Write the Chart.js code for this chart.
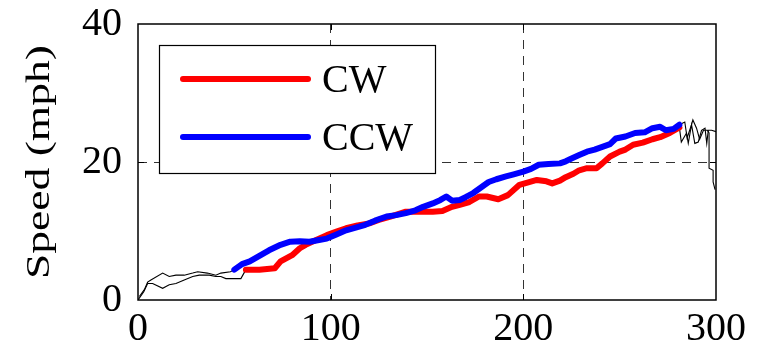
<!DOCTYPE html>
<html>
<head>
<meta charset="utf-8">
<script src="https://cdn.jsdelivr.net/npm/chart.js@4.4.1/dist/chart.umd.min.js"></script>
<style>
  body { margin: 0; background: #fff; }
  #wrap { width: 758px; height: 353px; }
</style>
</head>
<body>
<div id="wrap"><canvas id="speedChart" width="758" height="353"></canvas></div>
<script>
// Data
const cwX = [56, 63, 71, 74, 80, 84, 87, 91, 98, 103, 108, 114, 120, 125, 131, 139, 146, 153, 158, 163, 167, 172, 177, 181, 187, 192, 198, 203, 207, 212, 215, 219, 222, 226, 229, 233, 238, 241, 245, 250, 253, 257, 262, 267, 271, 276, 281];
const cwY = [4.4, 4.4, 4.6, 5.6, 6.5, 7.5, 8.0, 8.5, 9.4, 9.9, 10.4, 10.8, 11.1, 11.6, 12.1, 12.8, 12.8, 12.8, 12.9, 13.5, 13.8, 14.2, 15.0, 15.0, 14.6, 15.2, 16.7, 17.1, 17.4, 17.2, 16.9, 17.3, 17.8, 18.3, 18.8, 19.1, 19.1, 19.8, 20.8, 21.5, 21.8, 22.5, 22.8, 23.3, 23.6, 24.2, 25.0];

const ccwX = [50, 54, 58, 63, 68, 74, 79, 84, 89, 94, 98, 103, 108, 113, 118, 123, 129, 134, 139, 144, 148, 153, 157, 160, 163, 167, 170, 174, 178, 182, 186, 191, 195, 200, 204, 208, 213, 219, 222, 225, 229, 233, 237, 241, 245, 248, 253, 258, 263, 267, 271, 274, 278, 281];
const ccwY = [4.4, 5.2, 5.6, 6.4, 7.2, 8.0, 8.45, 8.5, 8.45, 8.7, 8.9, 9.5, 10.1, 10.5, 10.9, 11.5, 12.1, 12.3, 12.6, 13.0, 13.5, 14.0, 14.5, 15.0, 14.4, 14.5, 14.9, 15.5, 16.3, 17.1, 17.5, 17.9, 18.2, 18.6, 19.0, 19.6, 19.7, 19.8, 20.1, 20.5, 21.0, 21.5, 21.8, 22.2, 22.6, 23.4, 23.7, 24.2, 24.3, 24.9, 25.1, 24.6, 24.8, 25.4];

// thin black traces outside the coloured parts
const cwHeadX = [0, 3, 5, 7.6, 12.8, 16.2, 19.7, 24, 28.4, 31.8, 37, 40.4, 43, 45.6, 50.8, 53.4, 56];
const cwHeadY = [0, 1.2, 2.4, 2.4, 1.7, 2.2, 2.4, 2.9, 3.4, 3.6, 3.6, 3.4, 3.4, 3.1, 3.1, 3.1, 4.4];
const ccwHeadX = [0.7, 3.3, 5, 6.7, 12.8, 16.2, 19.7, 24, 28.4, 31, 36, 40.4, 43, 48, 50];
const ccwHeadY = [0.5, 1.5, 2.6, 2.9, 3.9, 3.4, 3.6, 3.6, 3.9, 4.1, 3.9, 3.6, 3.9, 4.1, 4.4];

const cwTailX = [281, 282, 284.7, 285.6, 287.3, 289, 290.8, 292.5, 294.3, 295.2, 296, 297.7, 300];
const cwTailY = [25.0, 22.9, 24.2, 22.7, 25.4, 22.7, 22.9, 24.6, 24.9, 22.7, 24.6, 24.6, 24.4];
const ccwTailX = [281, 283.8, 285, 287.3, 288, 289.9, 291.5, 293.5, 295.5, 296.4, 296.4, 298.5, 298.5, 299.5];
const ccwTailY = [25.4, 25.8, 23.5, 25.4, 26.1, 24.9, 23.3, 24.6, 24.6, 24.2, 19.1, 18.8, 17.1, 16.0];

const xTicks = [0, 100, 200, 300];
const yTicks = [0, 20, 40];

function toPoints(xs, ys) {
  return xs.map((x, i) => ({ x, y: ys[i] }));
}

const FONT = "'Liberation Serif', 'Times New Roman', serif";

// Frame, inward tick marks, y title and legend box
const decorations = {
  id: 'decorations',
  afterDraw(chart) {
    const { ctx, chartArea: a, scales } = chart;
    ctx.save();
    ctx.strokeStyle = '#000';
    ctx.lineWidth = 1.5;
    ctx.strokeRect(a.left, a.top, a.right - a.left, a.bottom - a.top);

    ctx.lineWidth = 1;
    [100, 200].forEach(v => {
      const px = Math.round(scales.x.getPixelForValue(v)) + 0.5;
      ctx.beginPath();
      ctx.moveTo(px, a.bottom); ctx.lineTo(px, a.bottom - 6);
      ctx.moveTo(px, a.top); ctx.lineTo(px, a.top + 6);
      ctx.stroke();
    });
    const py = Math.round(scales.y.getPixelForValue(20)) + 0.5;
    ctx.beginPath();
    ctx.moveTo(a.left, py); ctx.lineTo(a.left + 6, py);
    ctx.moveTo(a.right, py); ctx.lineTo(a.right - 6, py);
    ctx.stroke();

    // y axis title (stretched along its length like the original)
    ctx.save();
    ctx.translate(40, (a.top + a.bottom) / 2);
    ctx.rotate(-Math.PI / 2);
    ctx.scale(1.38, 1);
    ctx.font = '33px ' + FONT;
    ctx.fillStyle = '#000';
    ctx.textAlign = 'center';
    ctx.textBaseline = 'middle';
    ctx.fillText('Speed (mph)', 0, 0);
    ctx.restore();

    // legend
    const items = chart.data.datasets.filter(d => d.inLegend).sort((p, q) => p.legendRank - q.legendRank);
    ctx.fillStyle = '#fff';
    ctx.fillRect(159, 45, 276, 128);
    ctx.strokeStyle = '#000';
    ctx.lineWidth = 1.2;
    ctx.strokeRect(159.5, 45.5, 276, 128);
    items.forEach((d, i) => {
      const y = 79 + i * 58;
      ctx.strokeStyle = d.borderColor;
      ctx.lineWidth = 6;
      ctx.lineCap = 'round';
      ctx.beginPath();
      ctx.moveTo(183, y); ctx.lineTo(308, y);
      ctx.stroke();
      ctx.fillStyle = '#000';
      ctx.font = '40px ' + FONT;
      ctx.textAlign = 'left';
      ctx.textBaseline = 'middle';
      ctx.fillText(d.label, 322, y + 2);
    });
    ctx.restore();
  }
};

function thin(label, xs, ys) {
  return {
    label,
    data: toPoints(xs, ys),
    borderColor: '#000',
    borderWidth: 1.1,
    pointRadius: 0,
    tension: 0
  };
}

new Chart(document.getElementById('speedChart'), {
  type: 'line',
  data: {
    datasets: [
      { label: 'CCW', data: toPoints(ccwX, ccwY), borderColor: '#0000ff', borderWidth: 6,
        pointRadius: 0, tension: 0, borderJoinStyle: 'round', borderCapStyle: 'round', inLegend: true, legendRank: 2 },
      { label: 'CW', data: toPoints(cwX, cwY), borderColor: '#ff0000', borderWidth: 6,
        pointRadius: 0, tension: 0, borderJoinStyle: 'round', borderCapStyle: 'round', inLegend: true, legendRank: 1 },
      thin('cw head', cwHeadX, cwHeadY),
      thin('ccw head', ccwHeadX, ccwHeadY),
      thin('cw tail', cwTailX, cwTailY),
      thin('ccw tail', ccwTailX, ccwTailY)
    ]
  },
  options: {
    responsive: false,
    animation: false,
    devicePixelRatio: 1,
    layout: { padding: { top: 24, right: 42, left: 0, bottom: 0 } },
    plugins: {
      legend: { display: false },
      tooltip: { enabled: false }
    },
    scales: {
      x: {
        type: 'linear',
        min: 0, max: 300,
        afterBuildTicks: s => { s.ticks = xTicks.map(v => ({ value: v })); },
        afterFit: s => { s.height = 53; s.paddingLeft = 0; s.paddingRight = 0; },
        ticks: { color: '#000', font: { family: FONT, size: 40 }, padding: 5, maxRotation: 0 },
        grid: {
          drawTicks: false,
          color: c => (c.tick && (c.tick.value === 100 || c.tick.value === 200)) ? '#333' : 'transparent'
        },
        border: { display: false, dash: [9, 7] }
      },
      y: {
        type: 'linear',
        min: 0, max: 40,
        afterBuildTicks: s => { s.ticks = yTicks.map(v => ({ value: v })); },
        afterFit: s => { s.width = 138; s.paddingTop = 0; s.paddingBottom = 0; },
        ticks: { color: '#000', font: { family: FONT, size: 40 }, padding: 16 },
        grid: {
          drawTicks: false,
          color: c => (c.tick && c.tick.value === 20) ? '#333' : 'transparent'
        },
        border: { display: false, dash: [9, 7] }
      }
    }
  },
  plugins: [decorations]
});
</script>
</body>
</html>
